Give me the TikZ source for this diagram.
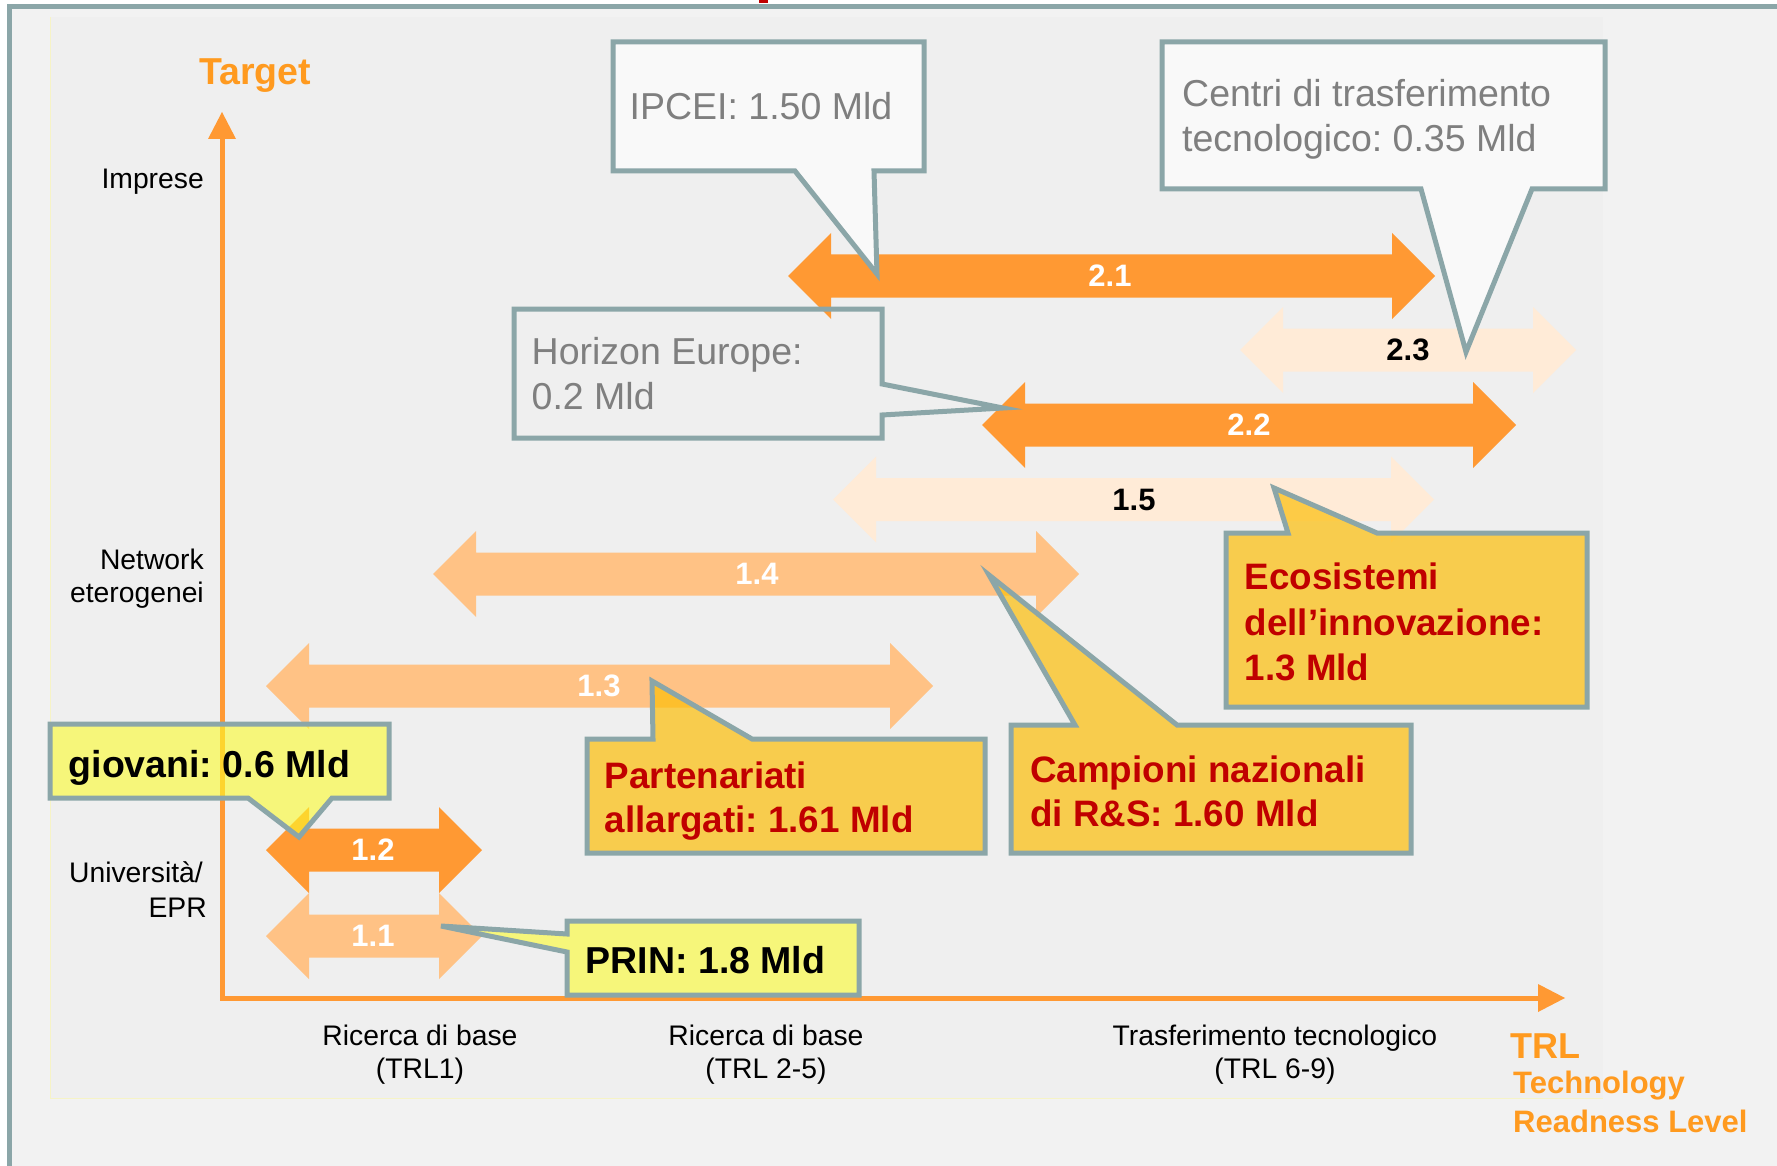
\documentclass[tikz,border=0pt]{standalone}
\usepackage{fontspec}
\setmainfont{Liberation Sans}
\definecolor{frameC}{HTML}{8BA6A8}
\definecolor{dorange}{HTML}{FF9933}
\definecolor{peach}{HTML}{FFC285}
\definecolor{pale}{HTML}{FFEBD7}
\definecolor{boxW}{HTML}{F9F9F9}
\definecolor{txtgray}{HTML}{7F7F7F}
\definecolor{dred}{HTML}{C00000}
\definecolor{yel}{HTML}{FCFC2C}
\definecolor{gold}{HTML}{FDBE09}
\definecolor{outerbg}{HTML}{F2F2F2}
\definecolor{innerbg}{HTML}{EFEFEF}
\definecolor{edgeY}{HTML}{F6F3C6}
\definecolor{orangeT}{HTML}{FF9A1F}
\newcommand\dblarr[4]{%
  \fill[#4] (#1,#3) -- ({#1+43},{#3-43}) -- ({#1+43},{#3-21.5}) -- ({#2-43},{#3-21.5})
    -- ({#2-43},{#3-43}) -- (#2,#3) -- ({#2-43},{#3+43}) -- ({#2-43},{#3+21.5})
    -- ({#1+43},{#3+21.5}) -- ({#1+43},{#3+43}) -- cycle;}
\tikzset{
  callout/.style={draw=frameC, line width=5pt, line join=miter},
  whitebox/.style={callout, fill=boxW},
  goldbox/.style={callout, fill=gold, fill opacity=0.7},
  yelbox/.style={callout, fill=yel, fill opacity=0.6},
  axlabel/.style={inner sep=0pt, text=black, font=\fontsize{28.3}{30}\selectfont},
  numlbl/.style={inner sep=0pt, font=\bfseries\fontsize{31}{31}\selectfont},
  grayT/.style={inner sep=0pt, anchor=base west, text=txtgray, font=\fontsize{37.5}{40}\selectfont},
  redT/.style={inner sep=0pt, anchor=base west, text=dred, font=\bfseries\fontsize{36.8}{40}\selectfont},
  blackT/.style={inner sep=0pt, anchor=base west, text=black, font=\bfseries\fontsize{37.5}{40}\selectfont},
  orT/.style={inner sep=0pt, text=orangeT, font=\bfseries\fontsize{#1}{#1}\selectfont}
}
\begin{document}
\frenchspacing
\begin{tikzpicture}[x=1pt,y=-1pt]
\useasboundingbox (0,0) rectangle (1777,1166);
\fill[white] (0,0) rectangle (1777,1166);
\fill[outerbg] (9.5,6.5) rectangle (1777,1166);
\fill[innerbg] (50,17) rectangle (1603,1099);
\draw[edgeY, line width=1pt] (50.5,17) -- (50.5,1098.5) -- (1603,1098.5);
\draw[frameC, line width=5.5pt] (9.5,1170) -- (9.5,6.5) -- (1780,6.5);
\fill[dred] (759,0) rectangle (768,3.5);

% axes
\coordinate (O) at (222,998);
\coordinate (Ytop) at (222,139);
\coordinate (Xend) at (1538,998);
\draw[dorange, line width=5pt, line join=miter] (Ytop) -- (O) -- (Xend);
\fill[dorange] (208,139) -- (236,139) -- (222,112) -- cycle;
\fill[dorange] (1538,984) -- (1538,1012) -- (1565,998) -- cycle;

% arrows
\dblarr{788}{1435}{276}{dorange}
\dblarr{1240}{1576}{350}{pale}
\dblarr{982}{1516}{425}{dorange}
\dblarr{833}{1434}{499.5}{pale}
\dblarr{433}{1079}{574}{peach}
\dblarr{266}{933}{686}{peach}
\dblarr{266}{482}{850}{dorange}
\dblarr{266}{482}{936}{peach}

\node[numlbl, text=white] (l21) at (1110,276) {2.1};
\node[numlbl, text=black] (l23) at (1408,350) {2.3};
\node[numlbl, text=white] (l22) at (1249,425) {2.2};
\node[numlbl, text=black] (l15) at (1134,499.5) {1.5};
\node[numlbl, text=white] (l14) at (757,574) {1.4};
\node[numlbl, text=white] (l13) at (599,686) {1.3};
\node[numlbl, text=white] (l12) at (373,850) {1.2};
\node[numlbl, text=white] (l11) at (373,936) {1.1};

% grey callouts
\draw[whitebox] (613,42) -- (924,42) -- (924,171) -- (874,171) -- (877,274) -- (795,171) -- (613,171) -- cycle;
\draw[whitebox] (1162,42) -- (1605,42) -- (1605,189) -- (1532,189) -- (1466,352) -- (1421,189) -- (1162,189) -- cycle;
\draw[callout] (514,309) -- (882,309) -- (882,384) -- (1003,408) -- (882,415) -- (882,438) -- (514,438) -- cycle;

% yellow callouts
\draw[goldbox] (1226,533) -- (1288,533) -- (1274,488) -- (1377,533) -- (1587,533) -- (1587,707) -- (1226,707) -- cycle;
\draw[goldbox] (1011,725) -- (1075,725) -- (989,575) -- (1177,725) -- (1411,725) -- (1411,853) -- (1011,853) -- cycle;
\draw[goldbox] (587,739) -- (653,739) -- (652,681) -- (752,739) -- (985,739) -- (985,853) -- (587,853) -- cycle;
\draw[yelbox] (50,724) -- (389,724) -- (389,798) -- (332,798) -- (299,837) -- (248,798) -- (50,798) -- cycle;
\draw[yelbox] (567,921) -- (859,921) -- (859,995) -- (567,995) -- (567,952) -- (441,926) -- (567,934) -- cycle;

% callout texts
\node[grayT] (ipcei) at (629.5,120) {IPCEI: 1.50 Mld};
\node[grayT] (centri1) at (1182,107) {Centri di trasferimento};
\node[grayT] (centri2) at (1182,152) {tecnologico: 0.35 Mld};
\node[grayT] (hor1) at (531.5,364) {Horizon Europe:};
\node[grayT] (hor2) at (531.5,409) {0.2 Mld};
\node[redT] (eco1) at (1244.5,589) {Ecosistemi};
\node[redT] (eco2) at (1244.5,635) {dell’innovazione:};
\node[redT] (eco3) at (1244.5,680) {1.3 Mld};
\node[redT] (camp1) at (1030,782) {Campioni nazionali};
\node[redT] (camp2) at (1030,826) {di R\&S: 1.60 Mld};
\node[redT] (part1) at (604.5,788) {Partenariati};
\node[redT] (part2) at (604.5,832) {allargati: 1.61 Mld};
\node[blackT] (giov) at (68.5,777) {giovani: 0.6 Mld};
\node[blackT] (prin) at (585.5,973) {PRIN: 1.8 Mld};

% axis labels
\node[axlabel, anchor=base east] (imp) at (204,189) {Imprese};
\node[axlabel, anchor=base east] (net1) at (204,569) {Network};
\node[axlabel, anchor=base east] (net2) at (204,602) {eterogenei};
\node[axlabel, anchor=base east] (uni1) at (203,882) {Università/};
\node[axlabel, anchor=base east] (uni2) at (207,917) {EPR};
\node[axlabel, anchor=base] (rb1a) at (420,1045) {Ricerca di base};
\node[axlabel, anchor=base] (rb1b) at (420,1078) {(TRL1)};
\node[axlabel, anchor=base] (rb2a) at (766,1045) {Ricerca di base};
\node[axlabel, anchor=base] (rb2b) at (766,1078) {(TRL 2-5)};
\node[axlabel, anchor=base] (tt1) at (1275,1045) {Trasferimento tecnologico};
\node[axlabel, anchor=base] (tt2) at (1275,1078) {(TRL 6-9)};

\node[orT=37.5, anchor=base] (target) at (255,85) {Target};
\node[orT=36, anchor=base west] (trl) at (1510,1058) {TRL};
\node[orT=31, anchor=base west] (trl2) at (1513,1093) {Technology};
\node[orT=31, anchor=base west] (trl3) at (1513,1132) {Readness Level};
\end{tikzpicture}
\end{document}
